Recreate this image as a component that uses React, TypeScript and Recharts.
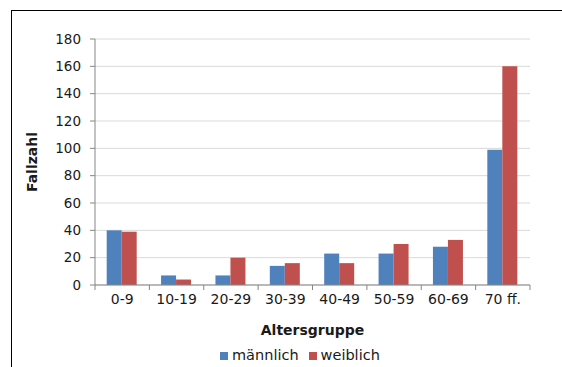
import { Bar, BarChart, CartesianGrid, Label, Legend, XAxis, YAxis } from "recharts";

const AGE_GROUPS = ["0-9", "10-19", "20-29", "30-39", "40-49", "50-59", "60-69", "70 ff."];
const MALE = [40, 7, 7, 14, 23, 23, 28, 99];
const FEMALE = [39, 4, 20, 16, 16, 30, 33, 160];
const Y_TICKS = [0, 20, 40, 60, 80, 100, 120, 140, 160, 180];

const FONT = "'DejaVu Sans', Verdana, sans-serif";
const AXIS_GRAY = "#868686";

const rows = AGE_GROUPS.map((label, i) => ({ label, male: MALE[i], female: FEMALE[i] }));

function CategoryTick(props: any) {
  const { x, y, payload, index, visibleTicksCount } = props;
  const half = payload.offset ?? 0;
  const axisY = y - 8;
  return (
    <g>
      <line x1={x - half} x2={x - half} y1={axisY} y2={axisY + 5} stroke={AXIS_GRAY} />
      {index === visibleTicksCount - 1 && (
        <line x1={x + half} x2={x + half} y1={axisY} y2={axisY + 5} stroke={AXIS_GRAY} />
      )}
      <text x={x} y={y + 11} textAnchor="middle" fontSize={14} fill="#1a1a1a" fontFamily={FONT}>
        {payload.value}
      </text>
    </g>
  );
}

export default function App() {
  return (
    <div style={{ position: "absolute", left: 0, top: 0, width: 562, height: 367, overflow: "hidden", background: "#fff" }}>
      <div
        style={{
          position: "absolute",
          left: 11,
          top: 10,
          width: 600,
          height: 400,
          borderTop: "1px solid #000",
          borderLeft: "1px solid #000",
        }}
      />
      <BarChart
        width={562}
        height={367}
        data={rows}
        margin={{ top: 39, right: 32, left: 0, bottom: 0 }}
        barCategoryGap="21.5%"
        barGap={0}
        style={{ fontFamily: FONT }}
      >
        <CartesianGrid vertical={false} stroke="#d9d9d9" />
        <XAxis
          dataKey="label"
          height={58}
          tickLine={false}
          tick={<CategoryTick />}
          axisLine={{ stroke: AXIS_GRAY }}
          interval={0}
        >
          <Label
            value="Altersgruppe"
            position="insideBottom"
            offset={8}
            style={{ fontSize: 14, fontWeight: "bold", fill: "#1a1a1a", fontFamily: FONT }}
          />
        </XAxis>
        <YAxis
          width={95}
          domain={[0, 180]}
          ticks={Y_TICKS}
          interval={0}
          tickSize={5}
          tickMargin={9}
          tickLine={{ stroke: AXIS_GRAY }}
          axisLine={{ stroke: AXIS_GRAY }}
          tick={{ fontSize: 13.5, fill: "#1a1a1a", fontFamily: FONT }}
        >
          <Label
            value="Fallzahl"
            angle={-90}
            position="insideLeft"
            offset={32}
            style={{ fontSize: 14, fontWeight: "bold", fill: "#1a1a1a", fontFamily: FONT, textAnchor: "middle" }}
          />
        </YAxis>
        <Legend
          verticalAlign="bottom"
          align="left"
          height={24}
          iconType="square"
          iconSize={8}
          wrapperStyle={{ left: 220, top: 347, width: 200, fontSize: 14.5, fontFamily: FONT, color: "#1a1a1a" }}
          formatter={(value) => <span style={{ color: "#1a1a1a" }}>{value}</span>}
        />
        <Bar dataKey="male" name="männlich" fill="#4f81bd" isAnimationActive={false} />
        <Bar dataKey="female" name="weiblich" fill="#c0504d" isAnimationActive={false} />
      </BarChart>
    </div>
  );
}
